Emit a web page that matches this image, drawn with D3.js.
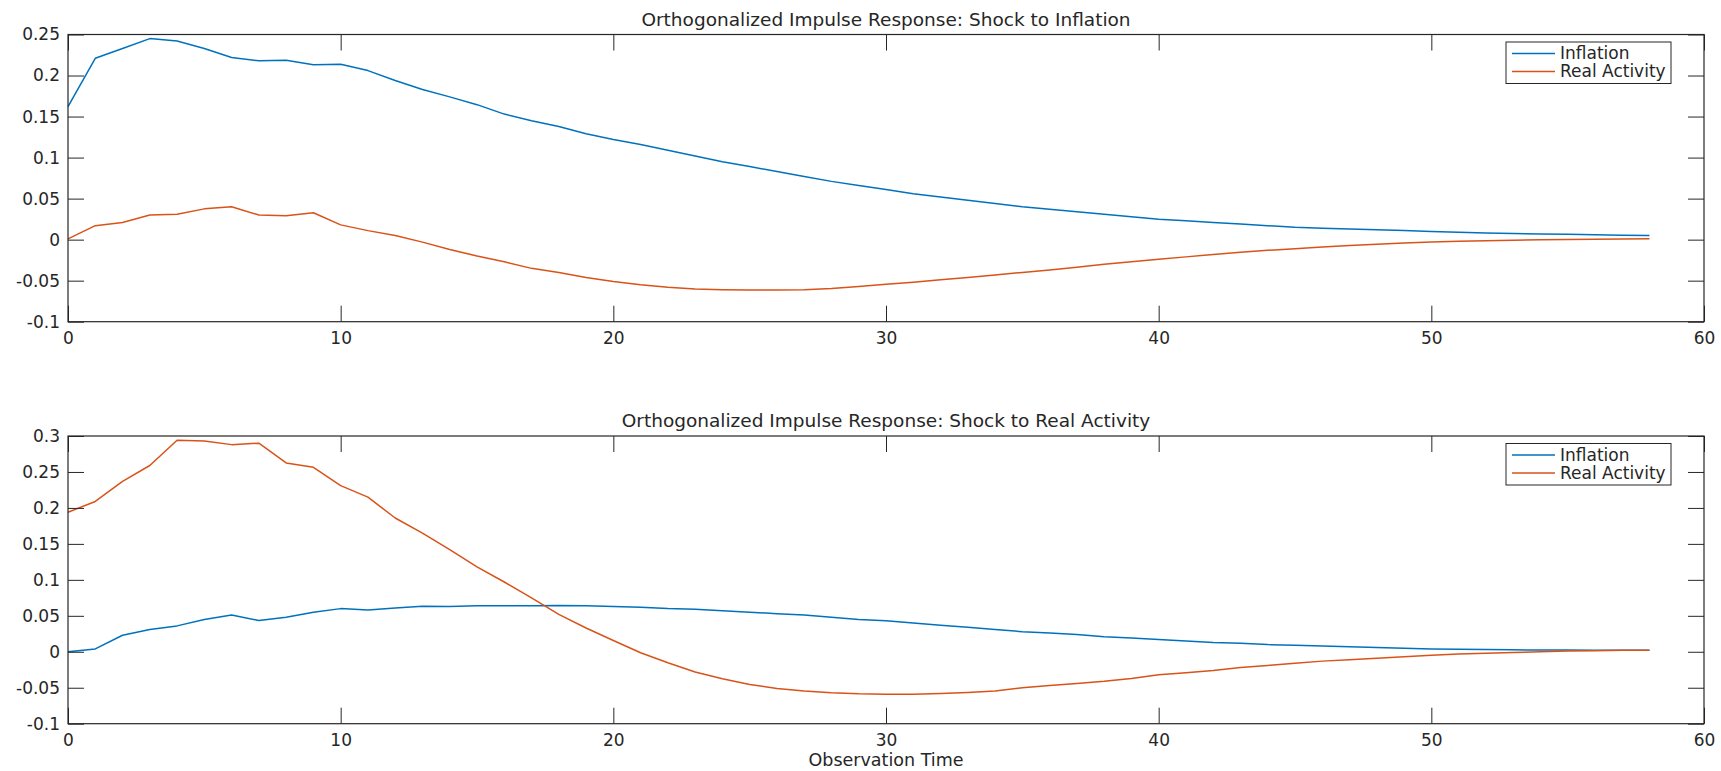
<!DOCTYPE html>
<html>
<head>
<meta charset="utf-8">
<script src="https://cdn.jsdelivr.net/npm/d3@7"></script>
<style>
  body { margin: 0; background: #fff; }
  text { font-family: "DejaVu Sans", sans-serif; fill: #262626; }
</style>
</head>
<body>
<div id="viz-container"></div>
<script>
// values, one per observation step (0..58)
let shockInflation_inflation = [
  0.162, 0.221, 0.233, 0.245, 0.242, 0.233, 0.222, 0.218, 0.2185, 0.213,
  0.2137, 0.206, 0.194, 0.183, 0.174, 0.1645, 0.153, 0.145, 0.138, 0.129,
  0.122, 0.116, 0.109, 0.102, 0.095, 0.089, 0.083, 0.077, 0.071, 0.066,
  0.061, 0.056, 0.052, 0.048, 0.044, 0.040, 0.037, 0.034, 0.031, 0.028,
  0.025, 0.023, 0.021, 0.019, 0.017, 0.015, 0.014, 0.013, 0.012, 0.011,
  0.010, 0.009, 0.008, 0.0075, 0.007, 0.0065, 0.006, 0.0055, 0.005
];
let shockInflation_activity = [
  0.001, 0.017, 0.021, 0.030, 0.031, 0.0375, 0.040, 0.030, 0.029, 0.0327,
  0.018, 0.011, 0.005, -0.003, -0.012, -0.020, -0.027, -0.035, -0.040, -0.046,
  -0.051, -0.055, -0.058, -0.060, -0.061, -0.0615, -0.0615, -0.061, -0.0595, -0.057,
  -0.0545, -0.052, -0.049, -0.046, -0.043, -0.040, -0.037, -0.0335, -0.030, -0.027,
  -0.024, -0.021, -0.018, -0.0155, -0.013, -0.011, -0.009, -0.007, -0.0055, -0.004,
  -0.003, -0.002, -0.0012, -0.0006, 0, 0.0003, 0.0006, 0.0008, 0.001
];
let shockActivity_inflation = [
  0.000, 0.004, 0.023, 0.031, 0.036, 0.045, 0.051, 0.0435, 0.048, 0.055,
  0.060, 0.058, 0.061, 0.0634, 0.063, 0.064, 0.064, 0.064, 0.0645, 0.064,
  0.063, 0.062, 0.060, 0.059, 0.057, 0.055, 0.053, 0.051, 0.048, 0.045,
  0.043, 0.040, 0.037, 0.034, 0.031, 0.028, 0.026, 0.024, 0.021, 0.019,
  0.017, 0.015, 0.013, 0.012, 0.010, 0.009, 0.008, 0.007, 0.006, 0.005,
  0.004, 0.0035, 0.003, 0.0027, 0.0025, 0.0023, 0.0022, 0.002, 0.002
];
let shockActivity_activity = [
  0.194, 0.209, 0.237, 0.259, 0.294, 0.293, 0.288, 0.290, 0.2625, 0.2565,
  0.231, 0.215, 0.186, 0.165, 0.142, 0.118, 0.097, 0.075, 0.052, 0.033,
  0.0157, -0.0014, -0.0153, -0.028, -0.0376, -0.0455, -0.051, -0.0545, -0.057, -0.0585,
  -0.059, -0.059, -0.058, -0.0565, -0.0545, -0.050, -0.047, -0.044, -0.041, -0.037,
  -0.032, -0.029, -0.026, -0.022, -0.019, -0.016, -0.013, -0.011, -0.009, -0.007,
  -0.005, -0.003, -0.002, -0.001, 0, 0.001, 0.0015, 0.002, 0.002
];

let seriesNames = ["Inflation", "Real Activity"];
let seriesColors = ["#0072BD", "#D95319"];
let titles = [
  "Orthogonalized Impulse Response: Shock to Inflation",
  "Orthogonalized Impulse Response: Shock to Real Activity"
];
let xTicks = [0, 10, 20, 30, 40, 50, 60];
let yTicksTop = [-0.1, -0.05, 0, 0.05, 0.1, 0.15, 0.2, 0.25];
let yTicksBottom = [-0.1, -0.05, 0, 0.05, 0.1, 0.15, 0.2, 0.25, 0.3];
let xLabel = "Observation Time";

let W = 1721, H = 771;
let left = 68, right = 1704, tickLen = 16;

let viz = d3.select("#viz-container")
  .append("svg")
    .attr("width", W)
    .attr("height", H)
;

let x = d3.scaleLinear().domain([0, 60]).range([left, right]);

let panels = [
  { top: 34.5, bottom: 321.7, yDomain: [-0.1, 0.25], yTicks: yTicksTop,
    title: titles[0], series: [shockInflation_inflation, shockInflation_activity], legendTop: 42 },
  { top: 436, bottom: 723.7, yDomain: [-0.1, 0.3], yTicks: yTicksBottom,
    title: titles[1], series: [shockActivity_inflation, shockActivity_activity], legendTop: 443.5 }
];

panels.forEach(function(p, pi) {
  let y = d3.scaleLinear().domain(p.yDomain).range([p.bottom, p.top]);
  let g = viz.append("g");

  // lines
  let line = d3.line()
    .x(function(d, i) { return x(i); })
    .y(function(d) { return y(d); });

  p.series.forEach(function(s, si) {
    g.append("path")
      .datum(s)
      .attr("d", line)
      .attr("fill", "none")
      .attr("stroke", seriesColors[si])
      .attr("stroke-width", 1.5)
      .attr("stroke-linejoin", "round");
  });

  // axes (matlab style, ticks inside on all four sides)
  let fmt = function(d) { return String(+d.toFixed(2)); };

  g.append("g")
    .attr("transform", "translate(0," + p.bottom + ")")
    .call(d3.axisBottom(x).tickValues(xTicks).tickSizeInner(-tickLen).tickSizeOuter(0).tickPadding(10).tickFormat(d3.format("d")));
  g.append("g")
    .attr("transform", "translate(0," + p.top + ")")
    .call(d3.axisTop(x).tickValues(xTicks).tickSizeInner(-tickLen).tickSizeOuter(0).tickFormat(""));
  g.append("g")
    .attr("transform", "translate(" + left + ",0)")
    .call(d3.axisLeft(y).tickValues(p.yTicks).tickSizeInner(-tickLen).tickSizeOuter(0).tickPadding(8).tickFormat(fmt));
  g.append("g")
    .attr("transform", "translate(" + right + ",0)")
    .call(d3.axisRight(y).tickValues(p.yTicks).tickSizeInner(-tickLen).tickSizeOuter(0).tickFormat(""));

  g.selectAll(".domain").remove();
  g.selectAll(".tick line").attr("stroke", "#262626").attr("stroke-width", 1);
  g.selectAll(".tick text")
    .attr("font-family", "DejaVu Sans")
    .attr("font-size", 17)
    .attr("fill", "#262626");

  // box
  g.append("rect")
    .attr("x", left)
    .attr("y", p.top)
    .attr("width", right - left)
    .attr("height", p.bottom - p.top)
    .attr("fill", "none")
    .attr("stroke", "#262626")
    .attr("stroke-width", 1.2);

  g.append("text")
    .attr("x", (left + right) / 2)
    .attr("y", p.top - 9)
    .attr("text-anchor", "middle")
    .attr("font-size", 18.5)
    .text(p.title);

  // legend
  let lg = g.append("g").attr("transform", "translate(1506," + p.legendTop + ")");
  lg.append("rect")
    .attr("width", 165)
    .attr("height", 41.5)
    .attr("fill", "#fff")
    .attr("stroke", "#262626")
    .attr("stroke-width", 1);
  seriesNames.forEach(function(n, si) {
    lg.append("line")
      .attr("x1", 6).attr("x2", 49)
      .attr("y1", 11.5 + si * 18).attr("y2", 11.5 + si * 18)
      .attr("stroke", seriesColors[si])
      .attr("stroke-width", 1.5);
    lg.append("text")
      .attr("x", 54)
      .attr("y", 11.5 + si * 18)
      .attr("dy", "0.35em")
      .attr("font-size", 17)
      .text(n);
  });
});

viz.append("text")
  .attr("x", (left + right) / 2)
  .attr("y", 766)
  .attr("text-anchor", "middle")
  .attr("font-size", 17.5)
  .text(xLabel);
</script>
</body>
</html>
